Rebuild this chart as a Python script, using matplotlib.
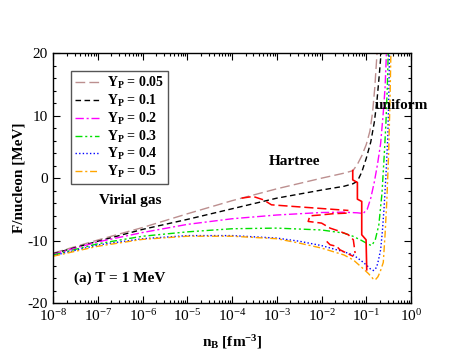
import matplotlib
matplotlib.use("Agg")
import matplotlib.pyplot as plt
from matplotlib.ticker import FixedLocator, LogLocator, MultipleLocator, NullFormatter, LogFormatterMathtext

plt.rcParams['font.family'] = ['Liberation Serif', 'DejaVu Serif']
plt.rcParams['mathtext.fontset'] = 'custom'
plt.rcParams['mathtext.rm'] = 'Liberation Serif'
plt.rcParams['mathtext.bf'] = 'Liberation Serif:bold'
plt.rcParams['mathtext.it'] = 'Liberation Serif:italic'
plt.rcParams['axes.unicode_minus'] = False

# ---- data (log10 of n_B [fm^-3], F/nucleon [MeV]) ----
labels = ["0.05", "0.1", "0.2", "0.3", "0.4", "0.5"]
x_decades = [-8, -7, -6, -5, -4, -3, -2, -1, 0]

logn_005 = [-8, -7, -6, -5, -4, -3, -2, -1.5, -1.3, -1.2, -1.1, -1.0, -0.92, -0.86, -0.81, -0.76]
F_005 = [-12.0, -9.9, -7.9, -5.7, -3.6, -1.7, 0.0, 0.8, 1.2, 2.2, 3.6, 5.4, 7.5, 10.5, 14.5, 20.0]

logn_01 = [-8, -7, -6, -5, -4, -3, -2, -1.5, -1.3, -1.2, -1.1, -1.0, -0.9, -0.82, -0.76, -0.71, -0.67]
F_01 = [-12.1, -10.1, -8.2, -6.6, -4.9, -3.2, -1.9, -1.3, -0.9, -0.5, 1.0, 3.2, 5.8, 9.0, 12.5, 16.5, 20.0]

logn_02 = [-8, -7, -6, -5, -4, -3, -2, -1.5, -1.2, -1.07, -0.98, -0.9, -0.82, -0.75, -0.68, -0.62, -0.58, -0.55]
F_02 = [-12.2, -10.2, -8.7, -7.4, -6.5, -5.9, -5.5, -5.45, -5.55, -5.65, -5.0, -3.2, -0.6, 2.2, 5.5, 10.5, 14.5, 20.0]

logn_03 = [-8, -7, -6, -5, -4, -3, -2, -1.5, -1.3, -1.1, -0.95, -0.88, -0.8, -0.72, -0.65, -0.6, -0.56, -0.53, -0.51]
F_03 = [-12.3, -10.5, -9.3, -8.6, -8.1, -8.0, -8.3, -8.8, -9.3, -10.0, -10.6, -10.8, -9.9, -7.5, -2.5, 3.5, 9.0, 14.5, 20.0]

logn_04 = [-8, -7, -6, -5, -4, -3, -2.5, -2, -1.5, -1.29, -1.1, -1.0, -0.9, -0.84, -0.77, -0.73, -0.68, -0.64, -0.6, -0.56, -0.52, -0.5, -0.48]
F_04 = [-12.4, -10.7, -9.7, -9.2, -9.2, -9.6, -10.1, -10.8, -11.8, -12.3, -13.3, -13.9, -14.6, -14.8, -14.3, -13.2, -11.5, -8.5, -4.5, 0.5, 6.5, 12.0, 20.0]

logn_05 = [-8, -7, -6, -5, -4, -3, -2.5, -2, -1.5, -1.29, -1.1, -0.95, -0.85, -0.8, -0.74, -0.69, -0.62, -0.58, -0.54, -0.5, -0.47, -0.45]
F_05 = [-12.5, -10.9, -9.8, -9.3, -9.3, -9.7, -10.4, -11.2, -12.3, -13.1, -14.3, -15.3, -16.1, -16.3, -15.8, -15.0, -13.5, -9.0, -3.5, 4.0, 12.5, 20.0]

# red phase boundary (solid) and red dashed lines
logn_red = [-1.303, -1.303, -1.199, -1.199, -1.102, -1.102, -1.005, -0.99]
F_red = [1.23, -0.27, -0.69, -3.36, -3.73, -9.07, -9.87, -14.67]

logn_rd1 = [-3.79, -3.53, -3.30, -3.12, -2.63, -1.81, -1.40]
F_rd1 = [-3.2, -2.93, -3.47, -4.27, -4.53, -4.96, -5.17]

logn_rd2 = [-1.44, -1.75, -2.03, -2.26, -2.30, -2.00, -1.81, -1.59, -1.40, -1.29, -1.25]
F_rd2 = [-5.6, -5.7, -5.9, -6.03, -6.93, -7.2, -8.0, -8.53, -9.07, -9.87, -12.0]

logn_rd3 = [-1.885, -1.81, -1.66, -1.59, -1.44, -1.29]
F_rd3 = [-10.13, -10.67, -10.93, -11.47, -12.0, -12.53]

series_logn = [logn_005, logn_01, logn_02, logn_03, logn_04, logn_05]
series_F = [F_005, F_01, F_02, F_03, F_04, F_05]
colors = ["#bc8f8f", "#000000", "#ff00ff", "#00e000", "#0000ff", "#ffa500"]
dashes = [(7, 3), (4, 2.5), (6, 2, 1.5, 2), (5, 2, 1.5, 2, 1.5, 2), (1, 1.6), (5, 2, 1.5, 2)]

fig = plt.figure(figsize=(4.63, 3.58), dpi=100)
ax = fig.add_axes([0.1151, 0.1536, 0.8877 - 0.1151, 0.851 - 0.1536])

for lg, F, c, d, lab in zip(series_logn, series_F, colors, dashes, labels):
    ax.plot([10 ** v for v in lg], F, color=c, lw=1.0, dashes=d,
            label=r'Y$_\mathbf{P}$ = ' + lab)

red = "#ff0000"
ax.plot([10 ** v for v in logn_red], F_red, color=red, lw=1.2)
for lg, F in [(logn_rd1, F_rd1), (logn_rd2, F_rd2), (logn_rd3, F_rd3)]:
    ax.plot([10 ** v for v in lg], F, color=red, lw=1.1, dashes=(6, 2.5))

ax.set_xscale('log')
ax.set_xlim(1e-8, 1)
ax.set_ylim(-20, 20)
ax.xaxis.set_major_locator(FixedLocator([10.0 ** d for d in x_decades]))
ax.xaxis.set_minor_locator(FixedLocator([m * 10.0 ** d for d in x_decades[:-1] for m in range(2, 10)]))
ax.xaxis.set_minor_formatter(NullFormatter())
ax.xaxis.set_major_formatter(LogFormatterMathtext())
ax.yaxis.set_major_locator(MultipleLocator(10))
ax.yaxis.set_minor_locator(MultipleLocator(2))
ax.tick_params(which='both', direction='in', top=True, right=True, labelsize=11, width=0.8)
ax.tick_params(which='major', length=5, pad=4)
ax.tick_params(which='minor', length=2.5)
for s in ax.spines.values():
    s.set_linewidth(1.0)

ax.set_xlabel(r'n$_\mathbf{B}$ [fm$^\mathbf{-3}$]', fontsize=11, fontweight='bold', labelpad=6)
ax.set_ylabel('F/nucleon [MeV]', fontsize=11, fontweight='bold')
ax.yaxis.set_label_coords(-0.078, 0.5)

ax.text(10 ** -6.28, -3.6, 'Virial gas', fontsize=11, fontweight='bold', ha='center', va='center')
ax.text(10 ** -2.6, 2.6, 'Hartree', fontsize=11, fontweight='bold', ha='center', va='center')
ax.text(10 ** -0.81, 11.7, 'uniform', fontsize=11, fontweight='bold', ha='left', va='center')
ax.text(10 ** -7.54, -16.0, '(a) T = 1 MeV', fontsize=11, fontweight='bold', ha='left', va='center')

leg = ax.legend(loc='upper left', bbox_to_anchor=(0.049, 0.929), borderaxespad=0,
                prop={'weight': 'bold', 'size': 10}, handlelength=1.7, handletextpad=0.6,
                labelspacing=0.12, borderpad=0.3, fancybox=False, framealpha=1,
                edgecolor='#555555')
leg.get_frame().set_linewidth(1.0)

fig.savefig('out.png', dpi=100)
